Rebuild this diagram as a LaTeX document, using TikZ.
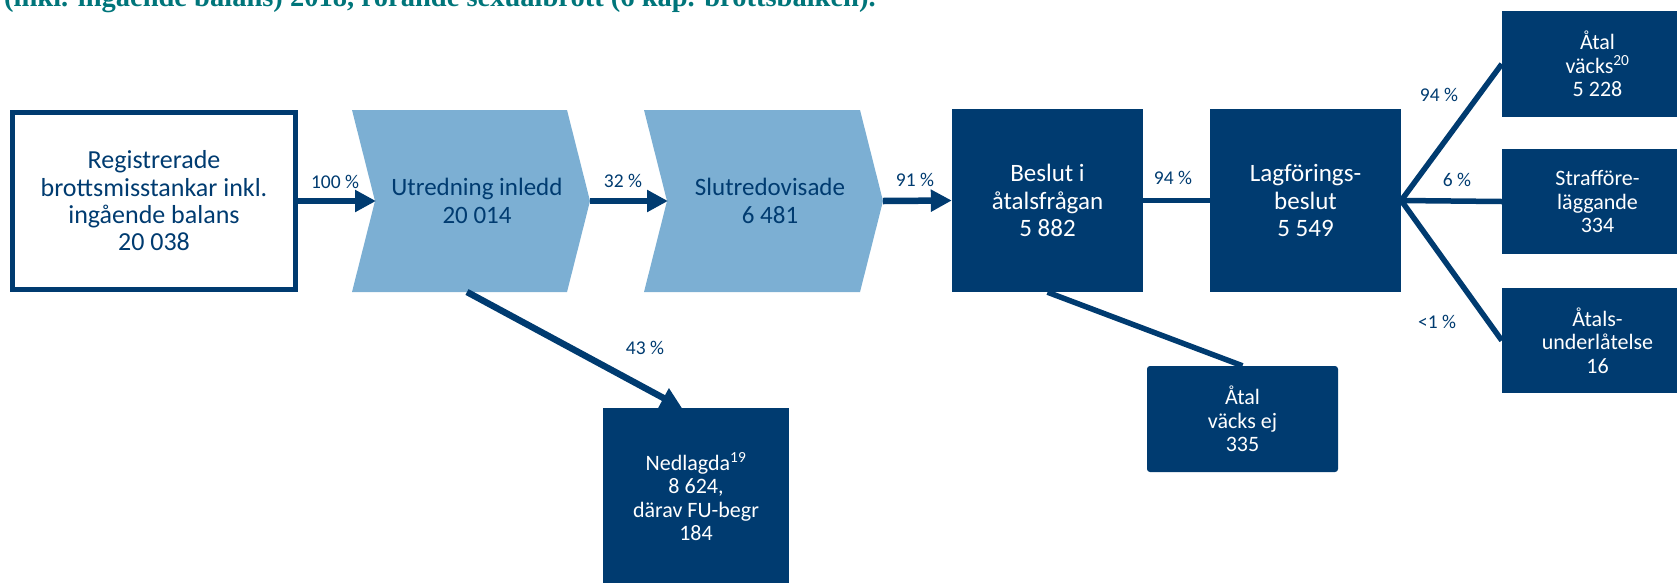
\documentclass[tikz,border=0pt]{standalone}
\usepackage{fontspec}
\setmainfont{Carlito}
\newfontfamily\headfont{Liberation Serif}
\usetikzlibrary{arrows.meta}
\definecolor{navy}{RGB}{0,59,112}
\definecolor{lightb}{RGB}{124,175,211}
\definecolor{headteal}{RGB}{0,117,122}
\begin{document}
\begin{tikzpicture}[x=1pt,y=-1pt,
  bigtxt/.style={font=\fontsize{25}{27.5}\selectfont, align=center},
  smalltxt/.style={font=\fontsize{22}{23.5}\selectfont, align=center},
  lbl/.style={font=\fontsize{19.5}{22}\selectfont, text=navy, inner sep=0pt},
  darkbox/.style={fill=navy, text=white, draw=none, inner sep=0pt},
  chevfill/.style={fill=lightb, draw=none},
  flow/.style={draw=navy, line width=6.5pt, -{Triangle[length=21pt,width=21pt]}},
  link/.style={draw=navy, line width=5.5pt},
]
\useasboundingbox (0,0) rectangle (1677,582);
\clip (0,0) rectangle (1677,582);

% heading (cut off at top)
\node[anchor=base west, inner sep=0pt, text=headteal, font=\headfont\bfseries\fontsize{28.5}{30}\selectfont] (head) at (4,6) {(inkl. ingående balans) 2018, rörande sexualbrott (6 kap. brottsbalken).};

% first box
\node[draw=navy, line width=5pt, minimum width=283pt, minimum height=177pt, inner sep=0pt, text=navy, font=\fontsize{26}{27.3}\selectfont, align=center] (reg) at (154,201) {Registrerade\\brottsmisstankar inkl.\\ingående balans\\20 038};

% chevrons
\fill[chevfill] (352,110) -- (567,110) -- (590,201) -- (567,292) -- (352,292) -- (375,201) -- cycle;
\coordinate (ut-in) at (376,201);
\coordinate (ut-out) at (590,201);
\coordinate (ut-bot) at (467,292);
\node[text=navy, bigtxt] (ut) at (477,201) {Utredning inledd\\20 014};

\fill[chevfill] (644,110) -- (860,110) -- (883,201) -- (860,292) -- (644,292) -- (667,201) -- cycle;
\coordinate (sl-in) at (668,201);
\coordinate (sl-out) at (883,201);
\node[text=navy, bigtxt] (slut) at (770,201) {Slutredovisade\\6 481};

% dark boxes
\node[darkbox, bigtxt, minimum width=191pt, minimum height=183pt] (beslut) at (1047.5,200.5) {Beslut i\\åtalsfrågan\\5 882};
\node[darkbox, bigtxt, minimum width=191pt, minimum height=183pt] (lag) at (1305.5,200.5) {Lagförings-\\beslut\\5 549};

\node[darkbox, smalltxt, minimum width=191pt, minimum height=106pt] (vacks) at (1597.5,64) {Åtal\\väcks\textsuperscript{20}\\5 228};
\node[darkbox, smalltxt, minimum width=191pt, minimum height=105pt] (straff) at (1597.5,201.5) {Strafföre-\\läggande\\334};
\node[darkbox, smalltxt, minimum width=191pt, minimum height=105pt] (underl) at (1597.5,340.5) {Åtals-\\underlåtelse\\16};

\node[darkbox, smalltxt, minimum width=186pt, minimum height=178pt] (ned) at (696,497) {Nedlagda\textsuperscript{19}\\8 624,\\därav FU-begr\\184};
\coordinate (ned-in) at (682,408);

\node[darkbox, smalltxt, rounded corners=3pt, minimum width=191pt, minimum height=106pt] (ej) at (1242.5,419) {Åtal\\väcks ej\\335};

% connectors
\draw[flow] (reg.east) -- (ut-in);
\draw[flow] (ut-out) -- (sl-in);
\draw[flow] (sl-out) -- (beslut.west);
\draw[flow] (ut-bot) -- (ned-in);
\draw[link] (beslut.east) -- (lag.west);
\draw[link] (beslut.south) -- (ej.north);
\draw[link] (lag.east) -- (vacks.west);
\draw[link] (lag.east) -- (straff.west);
\draw[link] (lag.east) -- (underl.west);

% labels
\node[lbl] (l100) at (335,182) {100 \%};
\node[lbl] (l32) at (623,181) {32 \%};
\node[lbl] (l91) at (915,180) {91 \%};
\node[lbl] (l94a) at (1173,178) {94 \%};
\node[lbl] (l43) at (645,348) {43 \%};
\node[lbl] (l94b) at (1439,95) {94 \%};
\node[lbl] (l6) at (1457,180) {6 \%};
\node[lbl] (l1) at (1437,322) {<1 \%};
\end{tikzpicture}
\end{document}
